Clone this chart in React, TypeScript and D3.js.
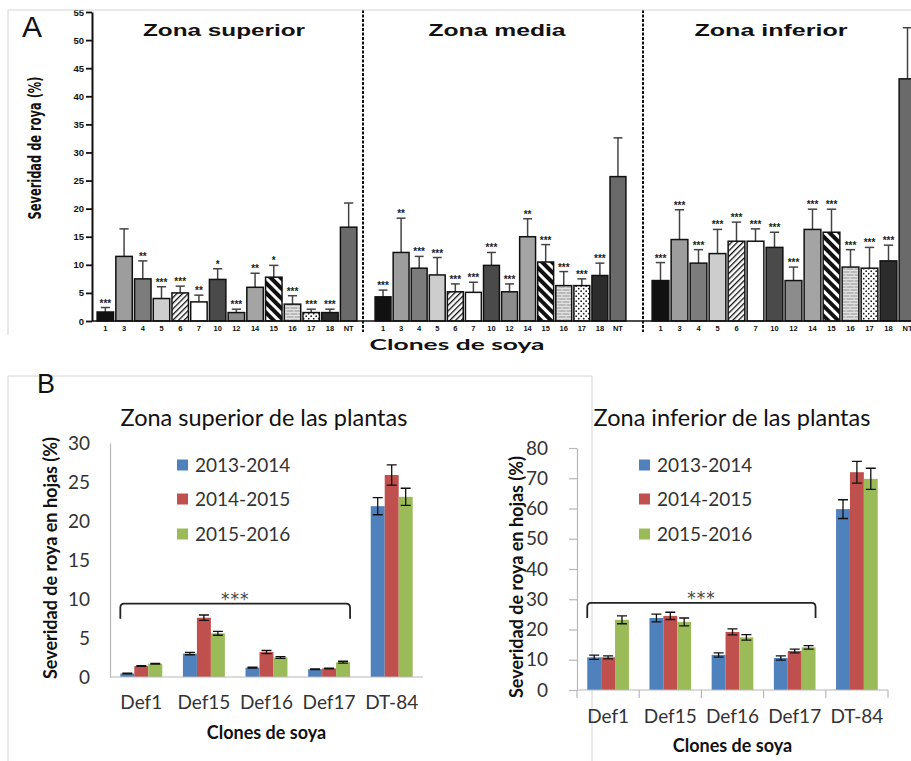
import React, { useEffect, useRef } from 'react';
import * as d3 from 'd3';

// Panel A: clones and severity (%) by leaf zone
const clones = ['1', '3', '4', '5', '6', '7', '10', '12', '14', '15', '16', '17', '18', 'NT'];
const superiorMean = [1.6, 11.5, 7.5, 4.0, 5.0, 3.4, 7.4, 1.5, 6.0, 7.8, 3.0, 1.5, 1.5, 16.7];
const superiorErr = [0.8, 4.9, 3.2, 2.1, 1.2, 1.2, 1.9, 0.6, 2.5, 2.1, 1.5, 0.6, 0.6, 4.3];
const superiorSig = ['***', '', '**', '***', '***', '**', '*', '***', '**', '*', '***', '***', '***', ''];
const mediaMean = [4.3, 12.2, 9.4, 8.2, 5.2, 5.1, 9.9, 5.2, 15.0, 10.5, 6.3, 6.3, 8.1, 25.7];
const mediaErr = [1.2, 6.1, 2.1, 3.1, 1.4, 1.8, 2.3, 1.4, 3.2, 3.1, 2.5, 1.2, 2.2, 6.9];
const mediaSig = ['***', '**', '***', '***', '***', '***', '***', '***', '**', '***', '***', '***', '***', ''];
const inferiorMean = [7.2, 14.5, 10.3, 12.0, 14.2, 14.2, 13.1, 7.2, 16.3, 15.8, 9.6, 9.4, 10.7, 43.1];
const inferiorErr = [3.2, 5.3, 2.4, 4.3, 3.4, 2.2, 2.7, 2.4, 3.6, 4.1, 3.1, 3.7, 2.8, 9.1];
const inferiorSig = ['***', '***', '***', '***', '***', '***', '***', '***', '***', '***', '***', '***', '***', ''];
const yTicksA = [0, 5, 10, 15, 20, 25, 30, 35, 40, 45, 50, 55];

// Panel B: cultivars by season
const cultivars = ['Def1', 'Def15', 'Def16', 'Def17', 'DT-84'];
const seasons = ['2013-2014', '2014-2015', '2015-2016'];
const supMean = [
  [0.45, 3.0, 1.2, 1.0, 21.9],
  [1.4, 7.6, 3.2, 1.1, 25.9],
  [1.7, 5.6, 2.5, 1.9, 23.1],
];
const supErr = [
  [0.05, 0.15, 0.05, 0.05, 1.1],
  [0.05, 0.35, 0.2, 0.05, 1.3],
  [0.05, 0.25, 0.12, 0.12, 1.1],
];
const infMean = [
  [10.8, 23.8, 11.6, 10.6, 59.8],
  [10.8, 24.5, 19.2, 12.9, 72.0],
  [23.2, 22.5, 17.4, 14.1, 69.8],
];
const infErr = [
  [0.7, 1.3, 0.7, 0.7, 3.1],
  [0.5, 1.2, 1.0, 0.6, 3.6],
  [1.3, 1.3, 0.9, 0.6, 3.5],
];
const yTicksSup = [0, 5, 10, 15, 20, 25, 30];
const yTicksInf = [0, 10, 20, 30, 40, 50, 60, 70, 80];

const cloneFills = ['#111111', '#9d9d9d', '#7c7c7c', '#cdcdcd', 'url(#hatch)', '#ffffff',
  '#4a4a4a', '#8c8c8c', '#a4a4a4', 'url(#stripe)', 'url(#brick)', 'url(#dots)', '#2c2c2c', '#6a6a6a'];
const seasonColors = ['#4f81bd', '#c0504d', '#9bbb59'];

const ARIAL = "'Liberation Sans', Arial, sans-serif";
const CALIBRI = "Lato, 'Open Sans', sans-serif";

export default function App() {
  const svgRef = useRef<SVGSVGElement>(null);

  useEffect(() => {
    if (!svgRef.current) return;
    const svg = d3.select(svgRef.current);
    svg.selectAll('*').remove();

    const defs = svg.append('defs');
    const hatch = defs.append('pattern').attr('id', 'hatch').attr('patternUnits', 'userSpaceOnUse')
      .attr('width', 4).attr('height', 4).attr('patternTransform', 'rotate(45)');
    hatch.append('rect').attr('width', 4).attr('height', 4).attr('fill', '#fff');
    hatch.append('rect').attr('width', 1.3).attr('height', 4).attr('fill', '#111');

    const stripe = defs.append('pattern').attr('id', 'stripe').attr('patternUnits', 'userSpaceOnUse')
      .attr('width', 7).attr('height', 7).attr('patternTransform', 'rotate(-45)');
    stripe.append('rect').attr('width', 7).attr('height', 7).attr('fill', '#fff');
    stripe.append('rect').attr('width', 4).attr('height', 7).attr('fill', '#111');

    const brick = defs.append('pattern').attr('id', 'brick').attr('patternUnits', 'userSpaceOnUse')
      .attr('width', 8).attr('height', 6);
    brick.append('rect').attr('width', 8).attr('height', 6).attr('fill', '#b9b9b9');
    brick.append('path').attr('d', 'M0,0.5H8M0,3.5H8M2,0V3M6,3V6').attr('stroke', '#e2e2e2').attr('stroke-width', 1);

    const dots = defs.append('pattern').attr('id', 'dots').attr('patternUnits', 'userSpaceOnUse')
      .attr('width', 5).attr('height', 5);
    dots.append('rect').attr('width', 5).attr('height', 5).attr('fill', '#fff');
    dots.append('circle').attr('cx', 1.2).attr('cy', 1.2).attr('r', 0.9).attr('fill', '#222');
    dots.append('circle').attr('cx', 3.7).attr('cy', 3.7).attr('r', 0.9).attr('fill', '#222');

    // ---------- Panel A ----------
    const yA = d3.scaleLinear().domain([0, 55]).range([321, 12]);
    const gA = svg.append('g');

    const zones = [
      { title: 'Zona superior', mean: superiorMean, err: superiorErr, sig: superiorSig, range: [96, 358], tx: 224, tw: 162 },
      { title: 'Zona media', mean: mediaMean, err: mediaErr, sig: mediaSig, range: [374, 627], tx: 497, tw: 137 },
      { title: 'Zona inferior', mean: inferiorMean, err: inferiorErr, sig: inferiorSig, range: [651, 917], tx: 771, tw: 153 },
    ];

    zones.forEach(zone => {
      const x = d3.scaleBand().domain(clones).range(zone.range as [number, number]).paddingInner(0.12).paddingOuter(0.06);
      const bw = x.bandwidth();
      const g = gA.append('g');

      clones.forEach((c, i) => {
        const v = zone.mean[i];
        const top = yA(v + zone.err[i]);
        const cx = (x(c) || 0) + bw / 2;
        g.append('line').attr('x1', cx).attr('x2', cx).attr('y1', yA(v)).attr('y2', top)
          .attr('stroke', '#444').attr('stroke-width', 1.5);
        g.append('line').attr('x1', cx - bw * 0.28).attr('x2', cx + bw * 0.28).attr('y1', top).attr('y2', top)
          .attr('stroke', '#444').attr('stroke-width', 1.5);
        g.append('rect')
          .attr('x', x(c) || 0).attr('y', yA(v)).attr('width', bw).attr('height', yA(0) - yA(v))
          .attr('fill', cloneFills[i]).attr('stroke', '#111').attr('stroke-width', 1.5);
        if (zone.sig[i]) {
          g.append('text').attr('x', cx).attr('y', top - 1).attr('text-anchor', 'middle')
            .style('font-family', ARIAL).style('font-size', '10px').style('font-weight', 'bold').style('fill', '#222')
            .text(zone.sig[i]);
        }
        g.append('text').attr('x', cx).attr('y', 331).attr('text-anchor', 'middle')
          .style('font-family', ARIAL).style('font-size', '7.5px').style('font-weight', 'bold').style('fill', '#111')
          .text(c);
      });

      g.append('text').attr('x', zone.tx).attr('y', 36).attr('text-anchor', 'middle')
        .attr('textLength', zone.tw).attr('lengthAdjust', 'spacingAndGlyphs')
        .style('font-family', ARIAL).style('font-size', '16px').style('font-weight', 'bold').style('fill', '#111')
        .text(zone.title);
    });

    // baseline and y axis
    gA.append('line').attr('x1', 92).attr('x2', 911).attr('y1', yA(0)).attr('y2', yA(0))
      .attr('stroke', '#111').attr('stroke-width', 1.6);
    const axA = gA.append('g').attr('transform', 'translate(92,0)')
      .call(d3.axisLeft(yA).tickValues(yTicksA).tickSize(6).tickSizeOuter(0));
    axA.select('.domain').attr('stroke', '#111').attr('stroke-width', 2);
    axA.selectAll('.tick line').attr('stroke', '#111').attr('stroke-width', 1.8);
    axA.selectAll('.tick text').attr('x', -8)
      .style('font-family', ARIAL).style('font-size', '9.5px').style('font-weight', 'bold').style('fill', '#111');

    [363, 643].forEach(xd => {
      gA.append('line').attr('x1', xd).attr('x2', xd).attr('y1', 10).attr('y2', 332)
        .attr('stroke', '#111').attr('stroke-width', 2).attr('stroke-dasharray', '3,1.5');
    });

    // cover above frame, frame lines
    gA.append('rect').attr('x', 0).attr('y', 0).attr('width', 911).attr('height', 10).attr('fill', '#fff');
    gA.append('path').attr('d', 'M8,335V10H911').attr('fill', 'none').attr('stroke', '#d4d4d4').attr('stroke-width', 1);

    gA.append('text').attr('x', 22).attr('y', 37)
      .style('font-family', ARIAL).style('font-size', '30px').style('fill', '#111').text('A');

    gA.append('text').attr('transform', 'translate(41,148) rotate(-90)').attr('text-anchor', 'middle')
      .attr('textLength', 143).attr('lengthAdjust', 'spacingAndGlyphs')
      .style('font-family', "'Liberation Sans Narrow', 'DejaVu Sans Condensed', sans-serif")
      .style('font-size', '17px').style('font-weight', 'bold').style('fill', '#111')
      .text('Severidad de roya (%)');

    gA.append('text').attr('x', 457).attr('y', 350).attr('text-anchor', 'middle')
      .attr('textLength', 175).attr('lengthAdjust', 'spacingAndGlyphs')
      .style('font-family', CALIBRI).style('font-size', '16px').style('font-weight', 'bold').style('fill', '#111')
      .text('Clones de soya');

    // ---------- Panel B ----------
    const gB = svg.append('g');
    gB.append('path').attr('d', 'M8,761V376H592V761').attr('fill', 'none').attr('stroke', '#d4d4d4').attr('stroke-width', 1);
    gB.append('text').attr('x', 37).attr('y', 393)
      .style('font-family', ARIAL).style('font-size', '27px').style('fill', '#111').text('B');

    const charts = [
      {
        title: 'Zona superior de las plantas', mean: supMean, err: supErr, ticks: yTicksSup,
        xr: [110, 423], ydom: [0, 30], yr: [677, 443], tickMarks: false, bracketV: 9.4,
        titleX: 264, ytX: 51, ytY: 558, legX: 177, catY: 709, cloneY: 739, tickLabelX: 90,
      },
      {
        title: 'Zona inferior de las plantas', mean: infMean, err: infErr, ticks: yTicksInf,
        xr: [577, 888], ydom: [0, 80], yr: [690, 448], tickMarks: true, bracketV: 28.8,
        titleX: 732, ytX: 517, ytY: 577, legX: 639, catY: 723, cloneY: 752, tickLabelX: 556,
      },
    ];

    charts.forEach(ch => {
      const g = gB.append('g');
      const x0 = d3.scaleBand().domain(cultivars).range(ch.xr as [number, number]).paddingInner(0.33).paddingOuter(0.165);
      const x1 = d3.scaleBand().domain(seasons).range([0, x0.bandwidth()]);
      const y = d3.scaleLinear().domain(ch.ydom).range(ch.yr);
      const base = y(0);

      seasons.forEach((s, si) => {
        cultivars.forEach((c, ci) => {
          const v = ch.mean[si][ci];
          g.append('rect')
            .attr('x', (x0(c) || 0) + (x1(s) || 0)).attr('y', y(v))
            .attr('width', x1.bandwidth()).attr('height', base - y(v))
            .attr('fill', seasonColors[si]);
        });
      });
      seasons.forEach((s, si) => {
        cultivars.forEach((c, ci) => {
          const v = ch.mean[si][ci];
          const e = ch.err[si][ci];
          const cx = (x0(c) || 0) + (x1(s) || 0) + x1.bandwidth() / 2;
          const hi = y(v + e), lo = y(v - e);
          g.append('path')
            .attr('d', `M${cx},${lo}V${hi}M${cx - 5},${hi}H${cx + 5}M${cx - 5},${lo}H${cx + 5}`)
            .attr('stroke', '#111').attr('stroke-width', 1.3).attr('fill', 'none');
        });
      });

      // axes
      const ax = g.append('g').attr('transform', `translate(${ch.xr[0]},0)`)
        .call(d3.axisLeft(y).tickValues(ch.ticks).tickSize(ch.tickMarks ? 8 : 0).tickSizeOuter(0).tickPadding(ch.xr[0] - ch.tickLabelX));
      ax.select('.domain').attr('stroke', '#b8b8b8').attr('stroke-width', 1.2);
      ax.selectAll('.tick line').attr('stroke', '#b8b8b8').attr('stroke-width', 1.2);
      ax.selectAll('.tick text')
        .style('font-family', CALIBRI).style('font-size', '19px').style('fill', '#333');

      g.append('line').attr('x1', ch.xr[0]).attr('x2', ch.xr[1]).attr('y1', base).attr('y2', base)
        .attr('stroke', '#b8b8b8').attr('stroke-width', 1.2);
      if (ch.tickMarks) {
        const step = x0.step();
        d3.range(cultivars.length + 1).forEach(k => {
          const xt = ch.xr[0] + k * step;
          g.append('line').attr('x1', xt).attr('x2', xt).attr('y1', base).attr('y2', base + 8)
            .attr('stroke', '#b8b8b8').attr('stroke-width', 1.2);
        });
      }

      cultivars.forEach(c => {
        g.append('text').attr('x', (x0(c) || 0) + x0.bandwidth() / 2).attr('y', ch.catY).attr('text-anchor', 'middle')
          .style('font-family', CALIBRI).style('font-size', '19px').style('fill', '#333').text(c);
      });

      g.append('text').attr('x', (ch.xr[0] + ch.xr[1]) / 2).attr('y', ch.cloneY).attr('text-anchor', 'middle')
        .style('font-family', CALIBRI).style('font-size', '18px').style('font-weight', 'bold').style('fill', '#111')
        .text('Clones de soya');

      g.append('text').attr('x', ch.titleX).attr('y', 426).attr('text-anchor', 'middle')
        .style('font-family', CALIBRI).style('font-size', '23.5px').style('fill', '#111').text(ch.title);

      g.append('text').attr('transform', `translate(${ch.ytX},${ch.ytY}) rotate(-90)`).attr('text-anchor', 'middle')
        .attr('dy', '0.35em')
        .style('font-family', CALIBRI).style('font-size', '18px').style('font-weight', 'bold').style('fill', '#111')
        .text('Severidad de roya en hojas (%)');

      // legend
      seasons.forEach((s, si) => {
        const ly = [465, 499, 534][si];
        g.append('rect').attr('x', ch.legX).attr('y', ly - 5.5).attr('width', 11).attr('height', 11).attr('fill', seasonColors[si]);
        g.append('text').attr('x', ch.legX + 18).attr('y', ly).attr('dy', '0.36em')
          .style('font-family', CALIBRI).style('font-size', '19px').style('fill', '#333').text(s);
      });

      // significance bracket over Def1..Def17
      const bx1 = x0('Def1') || 0;
      const bx2 = (x0('Def17') || 0) + x0.bandwidth();
      const by = y(ch.bracketV);
      g.append('path')
        .attr('d', `M${bx1},${by + 15}V${by + 4}Q${bx1},${by} ${bx1 + 4},${by}H${bx2 - 4}Q${bx2},${by} ${bx2},${by + 4}V${by + 15}`)
        .attr('fill', 'none').attr('stroke', '#222').attr('stroke-width', 1.8);
      g.append('text').attr('x', (bx1 + bx2) / 2).attr('y', by + 1).attr('text-anchor', 'middle')
        .style('font-family', "'DejaVu Sans', sans-serif").style('font-size', '17px').style('fill', '#444')
        .attr('letter-spacing', '1px')
        .text('***');
    });
  }, []);

  return (
    <div style={{ width: 911, height: 761 }}>
      <style>{'body{margin:0}'}</style>
      <svg ref={svgRef} width={911} height={761} style={{ display: 'block', background: '#fff' }} />
    </div>
  );
}
